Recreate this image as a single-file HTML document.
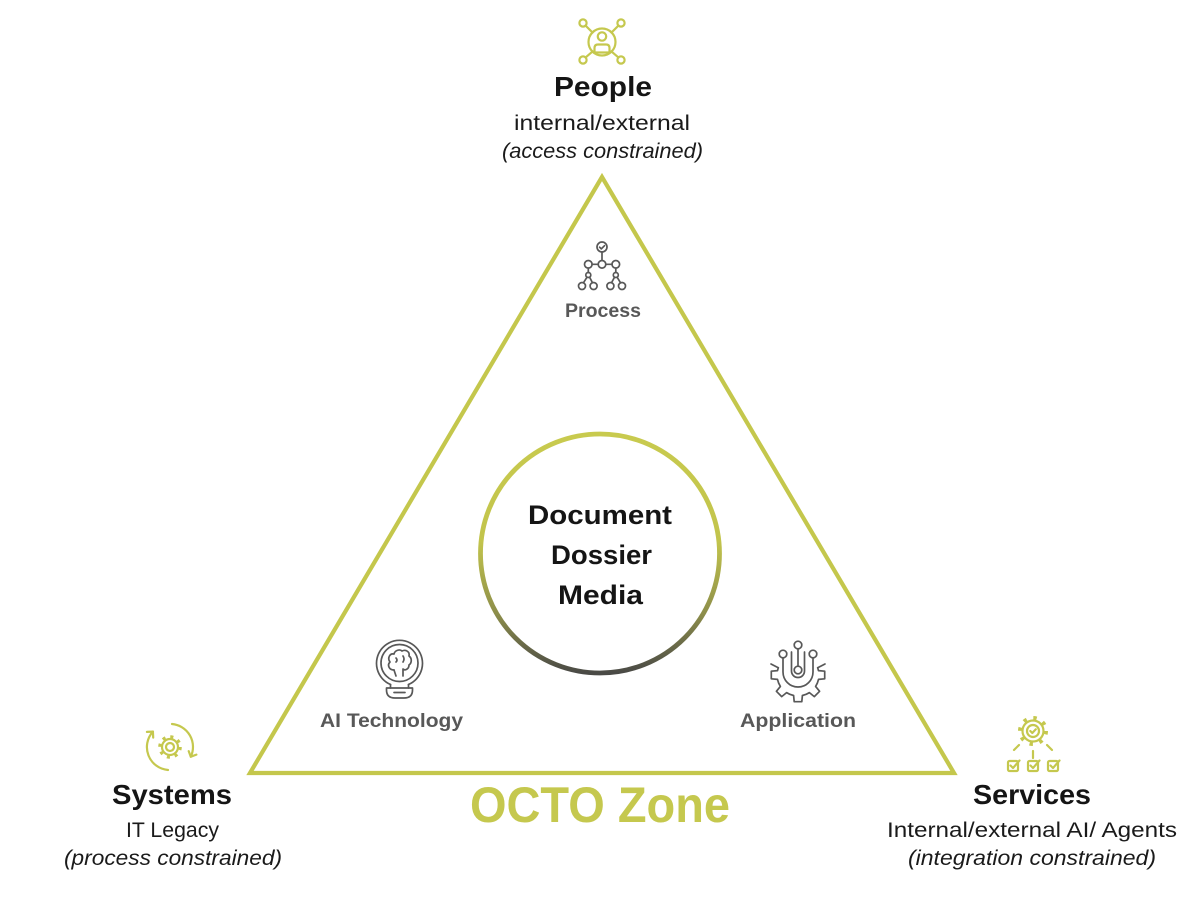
<!DOCTYPE html>
<html>
<head>
<meta charset="utf-8">
<style>
  html, body { margin:0; padding:0; background:#ffffff; }
  svg { display:block; }
  text { font-family: "Liberation Sans", "DejaVu Sans", sans-serif; }
  .h { font-weight:bold; fill:#151515; font-size:28px; }
  .s { fill:#1a1a1a; font-size:21px; }
  .i { fill:#1a1a1a; font-size:21px; font-style:italic; }
  .g { fill:#585858; font-size:19px; font-weight:bold; }
  .c { fill:#151515; font-size:27px; font-weight:bold; }
</style>
</head>
<body>
<svg width="1200" height="900" viewBox="0 0 1200 900" xmlns="http://www.w3.org/2000/svg">
  <defs>
    <linearGradient id="cg" x1="0" y1="0" x2="0" y2="1">
      <stop offset="0" stop-color="#c8ca4e"/>
      <stop offset="0.45" stop-color="#c2c44c"/>
      <stop offset="0.75" stop-color="#8d8e4a"/>
      <stop offset="1" stop-color="#4a4a46"/>
    </linearGradient>
  </defs>
  <rect width="1200" height="900" fill="#ffffff"/>

  <!-- Triangle -->
  <polygon points="602,177 250,773 954,773" fill="none" stroke="#c4c74c" stroke-width="4.2" stroke-linejoin="miter"/>

  <!-- Central circle -->
  <circle cx="600" cy="553.5" r="119.5" fill="#ffffff" stroke="url(#cg)" stroke-width="4.8"/>

  <!-- People icon -->
  <g fill="none" stroke="#c5c84e" stroke-width="2.2" stroke-linecap="round" stroke-linejoin="round">
    <circle cx="602" cy="42" r="13.5"/>
    <circle cx="583" cy="23" r="3.6"/>
    <circle cx="621" cy="23" r="3.6"/>
    <circle cx="583" cy="60" r="3.6"/>
    <circle cx="621" cy="60" r="3.6"/>
    <line x1="585.6" y1="25.6" x2="592.6" y2="32.6"/>
    <line x1="618.4" y1="25.6" x2="611.4" y2="32.6"/>
    <line x1="585.6" y1="57.4" x2="592.6" y2="51.4"/>
    <line x1="618.4" y1="57.4" x2="611.4" y2="51.4"/>
    <circle cx="602" cy="36.5" r="4.2"/>
    <path d="M594.5,53 V48 Q594.5,44.5 598,44.5 H606 Q609.5,44.5 609.5,48 V53"/>
    <line x1="595.5" y1="52.5" x2="608.5" y2="52.5"/>
  </g>

  <!-- Process icon -->
  <g fill="none" stroke="#585858" stroke-width="1.7" stroke-linecap="round" stroke-linejoin="round">
    <circle cx="602" cy="247" r="5"/>
    <path d="M599.6,247.2 L601.3,248.9 L604.5,245.7"/>
    <line x1="602" y1="252" x2="602" y2="260.3"/>
    <circle cx="588.3" cy="264.3" r="3.8"/>
    <circle cx="602" cy="264.3" r="3.8"/>
    <circle cx="615.8" cy="264.3" r="3.8"/>
    <line x1="592.1" y1="264.3" x2="598.2" y2="264.3"/>
    <line x1="605.8" y1="264.3" x2="612" y2="264.3"/>
    <line x1="588.3" y1="268.1" x2="588.3" y2="272.5"/>
    <circle cx="588.3" cy="275" r="2.5"/>
    <line x1="587" y1="277.2" x2="583.6" y2="282.6"/>
    <line x1="589.6" y1="277.2" x2="592.4" y2="282.6"/>
    <circle cx="582" cy="286" r="3.5"/>
    <circle cx="593.6" cy="286" r="3.5"/>
    <line x1="615.8" y1="268.1" x2="615.8" y2="272.5"/>
    <circle cx="615.8" cy="275" r="2.5"/>
    <line x1="614.5" y1="277.2" x2="611.6" y2="282.6"/>
    <line x1="617.1" y1="277.2" x2="620.4" y2="282.6"/>
    <circle cx="610.4" cy="286" r="3.5"/>
    <circle cx="622" cy="286" r="3.5"/>
  </g>

  <!-- AI Technology icon -->
  <g fill="none" stroke="#585858" stroke-width="1.7" stroke-linecap="round" stroke-linejoin="round">
    <path d="M390.5,684.5 A23,23 0 1 1 408.5,684.5"/>
    <line x1="390.5" y1="684.5" x2="390.5" y2="688"/>
    <line x1="408.5" y1="684.5" x2="408.5" y2="688"/>
    <circle cx="399.5" cy="663" r="18.5"/>
    <path d="M386.5,688 H412.5 V690 Q412.5,698 404,698 H395 Q386.5,698 386.5,690 Z"/>
    <line x1="394" y1="692.5" x2="405" y2="692.5"/>
    <path d="M394,670 C389,670 387,665 390,662 C387,658 390,653 394,654 C395,650 400,649 402,651 C406,649 410,652 409,656 C412,658 412,663 409,665 C409,669 405,671 403,669 L403,676"/>
    <path d="M394,670 L396,676"/>
    <path d="M396,658 Q398,660 396,662"/>
    <path d="M403,656 Q405,659 403,662"/>
  </g>

  <!-- Application icon -->
  <g fill="none" stroke="#585858" stroke-width="1.7" stroke-linecap="round" stroke-linejoin="round">
    <path d="M778.3,667.8 L777.5,670.6 L771.3,671.2 L771.3,678.8 L777.5,679.4
             A21,21 0 0 0 780.4,686.4 L776.4,691.3 L781.7,696.6 L786.6,692.6
             A21,21 0 0 0 793.6,695.5 L794.2,701.7 L801.8,701.7 L802.4,695.5
             A21,21 0 0 0 809.4,692.6 L814.3,696.6 L819.6,691.3 L815.6,686.4
             A21,21 0 0 0 818.5,679.4 L824.7,678.8 L824.7,671.2 L818.5,670.6 L817.7,667.8"/>
    <line x1="778.3" y1="667.8" x2="771" y2="664"/>
    <line x1="817.7" y1="667.8" x2="825" y2="664"/>
    <circle cx="798" cy="645" r="3.8"/>
    <circle cx="783" cy="654" r="3.8"/>
    <circle cx="813" cy="654" r="3.8"/>
    <circle cx="798" cy="670" r="3.8"/>
    <line x1="798" y1="648.8" x2="798" y2="666.2"/>
    <path d="M783,657.8 V672 A15,15 0 0 0 813,672 V657.8"/>
    <path d="M791.5,652 V671 A6.5,6.5 0 0 0 804.5,671 V652"/>
  </g>

  <!-- Systems icon -->
  <g fill="none" stroke="#c5c84e" stroke-width="2.2" stroke-linecap="round" stroke-linejoin="round">
    <path d="M172,724 A23,23 0 0 1 190.8,756.7"/>
    <path d="M196.4,754.6 L190.8,756.7 L188.7,751.1"/>
    <path d="M168,770 A23,23 0 0 1 152.9,731.6"/>
    <path d="M146.9,731.9 L152.9,731.6 L153.2,737.6"/>
    <circle cx="170" cy="747" r="8"/>
    <circle cx="170" cy="747" r="4"/>
    <circle cx="170" cy="747" r="10" stroke-width="3.6" stroke-dasharray="3 4.85" stroke-linecap="butt"/>
  </g>

  <!-- Services icon -->
  <g fill="none" stroke="#c5c84e" stroke-width="2.2" stroke-linecap="round" stroke-linejoin="round">
    <circle cx="1033" cy="731" r="10.5"/>
    <circle cx="1033" cy="731" r="13" stroke-width="4" stroke-dasharray="3.4 6.8" stroke-linecap="butt"/>
    <circle cx="1033" cy="731" r="6"/>
    <path d="M1030.3,731 L1032.3,733 L1035.8,729.3"/>
    <line x1="1033" y1="751" x2="1033" y2="758"/>
    <line x1="1019" y1="745" x2="1014" y2="750"/>
    <line x1="1047" y1="745" x2="1052" y2="750"/>
    <rect x="1008" y="761" width="10" height="10" rx="1.5"/>
    <rect x="1028" y="761" width="10" height="10" rx="1.5"/>
    <rect x="1048" y="761" width="10" height="10" rx="1.5"/>
    <path d="M1010.5,765.5 L1013,768 L1019.5,760.5"/>
    <path d="M1030.5,765.5 L1033,768 L1039.5,760.5"/>
    <path d="M1050.5,765.5 L1053,768 L1059.5,760.5"/>
  </g>

  <!-- People text -->
  <text class="h" x="603" y="96" text-anchor="middle" textLength="98" lengthAdjust="spacingAndGlyphs">People</text>
  <text class="s" x="602" y="130" text-anchor="middle" textLength="176" lengthAdjust="spacingAndGlyphs">internal/external</text>
  <text class="i" x="602.5" y="158" text-anchor="middle" textLength="201" lengthAdjust="spacingAndGlyphs">(access constrained)</text>

  <!-- Inner labels -->
  <text class="g" x="603" y="317" text-anchor="middle" textLength="76" lengthAdjust="spacingAndGlyphs">Process</text>
  <text class="g" x="391.5" y="727" text-anchor="middle" textLength="143" lengthAdjust="spacingAndGlyphs">AI Technology</text>
  <text class="g" x="798" y="727" text-anchor="middle" textLength="116" lengthAdjust="spacingAndGlyphs">Application</text>

  <!-- Circle text -->
  <text class="c" x="600" y="524" text-anchor="middle" textLength="144" lengthAdjust="spacingAndGlyphs">Document</text>
  <text class="c" x="601.5" y="564" text-anchor="middle" textLength="101" lengthAdjust="spacingAndGlyphs">Dossier</text>
  <text class="c" x="600.5" y="604" text-anchor="middle" textLength="85" lengthAdjust="spacingAndGlyphs">Media</text>

  <!-- OCTO Zone -->
  <text x="600" y="822" text-anchor="middle" font-size="50" font-weight="bold" fill="#c5c84e" textLength="260" lengthAdjust="spacingAndGlyphs">OCTO Zone</text>

  <!-- Systems text -->
  <text class="h" x="172" y="804" text-anchor="middle" textLength="120" lengthAdjust="spacingAndGlyphs">Systems</text>
  <text class="s" x="172.5" y="837" text-anchor="middle" textLength="93" lengthAdjust="spacingAndGlyphs">IT Legacy</text>
  <text class="i" x="173" y="865" text-anchor="middle" textLength="218" lengthAdjust="spacingAndGlyphs">(process constrained)</text>

  <!-- Services text -->
  <text class="h" x="1032" y="804" text-anchor="middle" textLength="118" lengthAdjust="spacingAndGlyphs">Services</text>
  <text class="s" x="1032" y="837" text-anchor="middle" textLength="290" lengthAdjust="spacingAndGlyphs">Internal/external AI/ Agents</text>
  <text class="i" x="1032" y="865" text-anchor="middle" textLength="248" lengthAdjust="spacingAndGlyphs">(integration constrained)</text>
</svg>
</body>
</html>
